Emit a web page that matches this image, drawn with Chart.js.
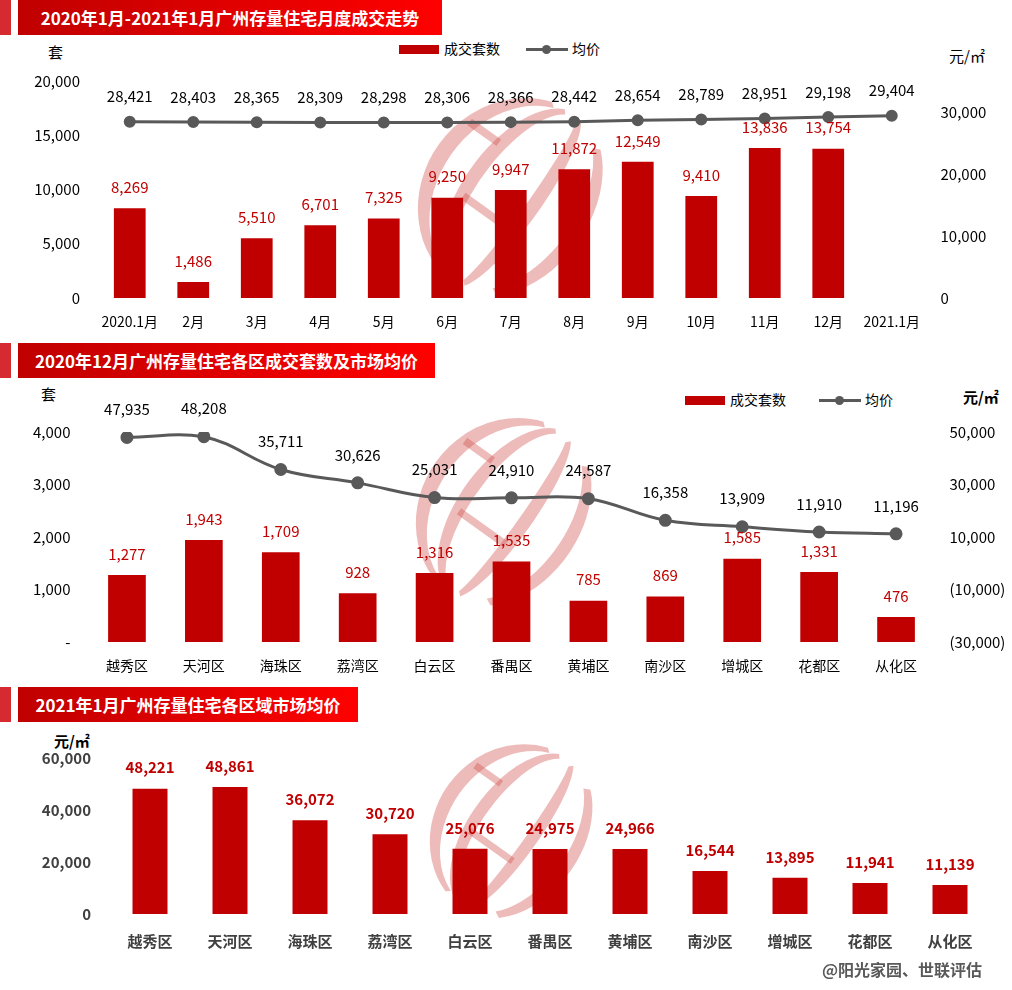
<!DOCTYPE html>
<html>
<head>
<meta charset="utf-8">
<script src="https://cdn.jsdelivr.net/npm/chart.js@4"></script>
<style>
  body{margin:0;background:#fff;font-family:"Noto Sans CJK SC","Noto Sans",sans-serif;}
  #page{position:relative;width:1012px;height:990px;overflow:hidden;background:#fff}
  .hd-tab{position:absolute;left:0;width:11px;height:35px;background:#d42a30}
  .hd{position:absolute;left:18px;height:35px;line-height:35px;color:#fff;font-weight:700;font-size:17px;text-align:center;
      background:linear-gradient(to right,#c00000,#e00000 50%,#ff0000)}
  .cv{position:absolute;left:0}
  .t{position:absolute;font-size:14px;color:#000;white-space:nowrap;line-height:1}
  .lg-bar{position:absolute;width:40px;height:9px;background:#c00000}
  .lg-line{position:absolute;width:42px;height:3px;background:#595959}
  .lg-dot{position:absolute;width:9px;height:9px;border-radius:50%;background:#595959}
</style>
</head>
<body>
<div id="page">
  <!-- 1 -->
  <div class="hd-tab" style="top:0"></div>
  <div class="hd" style="top:0;width:424px">2020年1月-2021年1月广州存量住宅月度成交走势</div>
  <div class="t" style="left:48px;top:44px;font-size:15px">套</div>
  <div class="t" style="left:949px;top:48px;font-size:15px">元/㎡</div>
  <div class="lg-bar" style="left:399px;top:45px"></div>
  <div class="t" style="left:444px;top:41px">成交套数</div>
  <div class="lg-line" style="left:526px;top:48px"></div>
  <div class="lg-dot" style="left:542px;top:45px"></div>
  <div class="t" style="left:572px;top:41px">均价</div>
  <canvas id="c1" class="cv" width="1012" height="305" style="top:35px"></canvas>

  <!-- 2 -->
  <div class="hd-tab" style="top:343px"></div>
  <div class="hd" style="top:343px;width:417px">2020年12月广州存量住宅各区成交套数及市场均价</div>
  <div class="t" style="left:41px;top:386px;font-size:15px">套</div>
  <div class="t" style="left:963px;top:389px;font-size:15px;font-weight:700">元/㎡</div>
  <div class="lg-bar" style="left:685px;top:396px"></div>
  <div class="t" style="left:730px;top:392px">成交套数</div>
  <div class="lg-line" style="left:819px;top:399px"></div>
  <div class="lg-dot" style="left:835px;top:396px"></div>
  <div class="t" style="left:865px;top:392px">均价</div>
  <canvas id="c2" class="cv" width="1012" height="307" style="top:378px"></canvas>

  <!-- 3 -->
  <div class="hd-tab" style="top:687px"></div>
  <div class="hd" style="top:687px;width:340px">2021年1月广州存量住宅各区域市场均价</div>
  <div class="t" style="left:54px;top:733px;font-size:15px;font-weight:700">元/㎡</div>
  <canvas id="c3" class="cv" width="1012" height="240" style="top:722px"></canvas>
  <div class="t" style="left:822px;top:961px;font-size:16px;font-weight:700;color:#595959">@阳光家园、世联评估</div>
</div>

<script>
// chart 1 - monthly
const months = ['2020.1月','2月','3月','4月','5月','6月','7月','8月','9月','10月','11月','12月','2021.1月'];
const monthDeals = [8269,1486,5510,6701,7325,9250,9947,11872,12549,9410,13836,13754,null];
const monthPrice = [28421,28403,28365,28309,28298,28306,28366,28442,28654,28789,28951,29198,29404];
const monthPriceTicks = [0,10000,20000,30000];

// chart 2 - districts, Dec 2020
const districts = ['越秀区','天河区','海珠区','荔湾区','白云区','番禺区','黄埔区','南沙区','增城区','花都区','从化区'];
const decDeals = [1277,1943,1709,928,1316,1535,785,869,1585,1331,476];
const decPrice = [47935,48208,35711,30626,25031,24910,24587,16358,13909,11910,11196];

// chart 3 - districts, Jan 2021
const janPrice = [48221,48861,36072,30720,25076,24975,24966,16544,13895,11941,11139];

const FONT = '"Noto Sans CJK SC","Noto Sans",sans-serif';
const RED = '#c00000';
const GREY = '#595959';
const fmt = v => Number(v).toLocaleString('en-US');

// value labels above bars / points
const valueLabels = {
  id:'valueLabels',
  afterDatasetsDraw(chart){
    const ctx = chart.ctx;
    chart.data.datasets.forEach((ds,i)=>{
      if(!ds.lbl) return;
      const meta = chart.getDatasetMeta(i);
      meta.data.forEach((el,j)=>{
        const v = ds.data[j];
        if(v==null) return;
        ctx.save();
        ctx.font = ds.lbl.font;
        ctx.fillStyle = ds.lbl.color;
        ctx.textAlign = 'center';
        ctx.textBaseline = 'middle';
        ctx.fillText(fmt(v), el.x, el.y - ds.lbl.off);
        ctx.restore();
      });
    });
  }
};

// pale globe watermark behind the marks
const globe = {
  id:'globe',
  beforeDatasetsDraw(chart, args, o){
    if(!o || o.x==null) return;
    const ctx = chart.ctx;
    ctx.save();
    ctx.translate(o.x, o.y);
    ctx.rotate(0.62);
    ctx.scale(o.s, o.s);
    ctx.fillStyle = 'rgba(205,70,64,0.36)';
    const ry = 105;
    const cres = (ro, ri, left, d) => {
      const a0 = left ? Math.PI/2+d : -Math.PI/2+d;
      const a1 = left ? 3*Math.PI/2-d : Math.PI/2-d;
      ctx.beginPath();
      ctx.ellipse(0,0,ro,ry,0,a0,a1,false);
      ctx.ellipse(0,0,ri,ry*0.96,0,a1,a0,true);
      ctx.closePath();
      ctx.fill();
    };
    cres(96,80,true,0.3);
    cres(56,42,true,0.25);
    cres(24,10,false,0.3);
    cres(74,60,false,0.55);
    // cross bars
    ctx.fillRect(-84,-40,36,8);
    ctx.fillRect(-46,24,60,8);
    ctx.restore();
  }
};

function yAxis(pos, w, pad, min, max, step, cb, extra){
  return Object.assign({
    position:pos, min, max,
    grid:{display:false, drawTicks:false}, border:{display:false},
    ticks:{stepSize:step, padding:pad, color:'#000', font:{family:FONT,size:15}, callback:cb},
    afterFit:s=>{ s.width = w; }
  }, extra||{});
}
function xAxis(h, pad, font, color){
  return {
    grid:{display:false, drawTicks:false}, border:{display:false},
    ticks:{padding:pad, color:color||'#000', font:Object.assign({family:FONT,size:14},font||{}), maxRotation:0, autoSkip:false},
    afterFit:s=>{ s.height = h; }
  };
}
Chart.defaults.font.family = FONT;

new Chart(document.getElementById('c1'),{
  type:'bar',
  data:{
    labels:months,
    datasets:[
      {type:'line', label:'均价', data:monthPrice, yAxisID:'y1', order:0,
       borderColor:GREY, backgroundColor:GREY, borderWidth:3, pointRadius:4.5, pointBackgroundColor:GREY, tension:0,
       lbl:{font:'15px '+FONT, color:'#000', off:25}},
      {label:'成交套数', data:monthDeals, yAxisID:'y', order:1, backgroundColor:RED,
       categoryPercentage:1, barPercentage:0.5,
       lbl:{font:'15px '+FONT, color:RED, off:21}}
    ]
  },
  options:{
    responsive:false, animation:false,
    layout:{padding:{top:46,left:0,right:0,bottom:0}},
    plugins:{legend:{display:false}, tooltip:{enabled:false}, globe:{x:517,y:165,s:1}},
    scales:{
      x:xAxis(42,15),
      y:yAxis('left',98,18,0,20000,5000,v=>fmt(v)),
      y1:yAxis('right',88.5,17,0,35000,10000,v=>fmt(v),
        {afterBuildTicks:s=>{ s.ticks = monthPriceTicks.map(v=>({value:v})); }})
    }
  },
  plugins:[globe,valueLabels]
});

new Chart(document.getElementById('c2'),{
  type:'bar',
  data:{
    labels:districts,
    datasets:[
      {type:'line', label:'均价', data:decPrice, yAxisID:'y1', order:0,
       borderColor:GREY, backgroundColor:GREY, borderWidth:3, pointRadius:5, pointBackgroundColor:GREY, tension:0.4,
       lbl:{font:'15px '+FONT, color:'#000', off:28}},
      {label:'成交套数', data:decDeals, yAxisID:'y', order:1, backgroundColor:RED,
       categoryPercentage:1, barPercentage:0.49,
       lbl:{font:'15px '+FONT, color:RED, off:21}}
    ]
  },
  options:{
    responsive:false, animation:false,
    layout:{padding:{top:54,left:0,right:0,bottom:0}},
    plugins:{legend:{display:false}, tooltip:{enabled:false}, globe:{x:510,y:137,s:0.95}},
    scales:{
      x:xAxis(43,15),
      y:yAxis('left',88.5,18,0,4000,1000,v=>v===0?'-':fmt(v)),
      y1:yAxis('right',77.5,15,-30000,50000,20000,v=>v<0?'('+fmt(-v)+')':fmt(v))
    }
  },
  plugins:[globe,valueLabels]
});

new Chart(document.getElementById('c3'),{
  type:'bar',
  data:{
    labels:districts,
    datasets:[
      {label:'均价', data:janPrice, backgroundColor:RED,
       categoryPercentage:1, barPercentage:0.4375,
       lbl:{font:'bold 15px '+FONT, color:RED, off:21}}
    ]
  },
  options:{
    responsive:false, animation:false,
    layout:{padding:{top:36,left:0,right:22,bottom:0}},
    plugins:{legend:{display:false}, tooltip:{enabled:false}, globe:{x:517,y:112,s:0.88}},
    scales:{
      x:xAxis(48,18,{weight:'bold',size:15},'#404040'),
      y:yAxis('left',110,19,0,60000,20000,v=>fmt(v),
        {ticks:{stepSize:20000,padding:19,color:'#404040',font:{family:FONT,size:15,weight:'bold'},callback:v=>fmt(v)}})
    }
  },
  plugins:[globe,valueLabels]
});
</script>
</body>
</html>
